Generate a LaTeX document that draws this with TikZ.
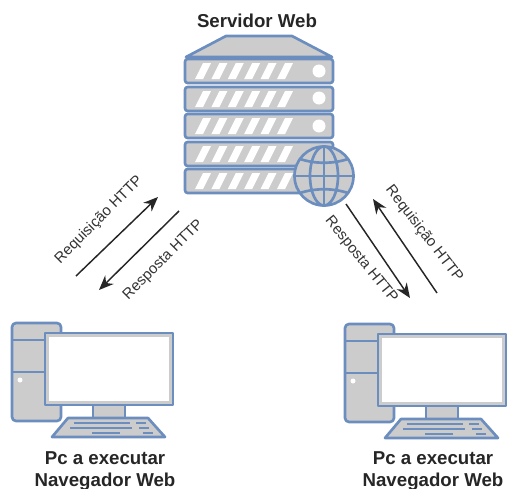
\documentclass[tikz,border=0pt]{standalone}
\usepackage{fontspec}
\setmainfont{Liberation Sans}
\usetikzlibrary{arrows.meta}
\definecolor{iconblue}{HTML}{6C8EBF}
\definecolor{icongrey}{HTML}{CCCCCC}
\tikzset{
  icon/.style={draw=iconblue, fill=icongrey, line width=2pt, line join=round},
  rackunit/.pic={
    \draw[icon, rounded corners=2] (185, 0) rectangle (333, 24);
    \foreach \i in {0,...,5}
      \fill[white] (195+16.4*\i, 20) -- (203+16.4*\i, 20) -- (211+16.4*\i, 4) -- (203+16.4*\i, 4) -- cycle;
  },
  pcicon/.pic={
    \draw[icon, rounded corners=3] (12, 323) rectangle (61, 421);
    \draw[icon] (12, 340) -- (61, 340);
    \draw[icon] (12, 372) -- (61, 372);
    \fill[white] (20, 380) circle (2.5);
    \draw[icon] (93, 405) rectangle (125, 418);
    \draw[icon] (68, 418) -- (148, 418) -- (165, 437) -- (52, 437) -- cycle;
    \draw[iconblue, line width=2pt] (74, 423) -- (130, 423);
    \draw[iconblue, line width=2pt] (136, 423) -- (146, 423);
    \draw[iconblue, line width=2pt] (70, 428) -- (132, 428);
    \draw[iconblue, line width=2pt] (139, 428) -- (149, 428);
    \draw[iconblue, line width=2pt] (92, 433) -- (120, 433);
    \draw[iconblue, line width=2pt] (143, 433) -- (153, 433);
    \draw[icon] (45, 333) rectangle (173, 405);
    \fill[white] (49, 337) rectangle (169, 401);
  },
  title/.style={font=\bfseries\fontsize{14}{16.5}\selectfont, text=black!85, align=center},
  msg/.style={font=\fontsize{11.2}{13}\selectfont, text=black!80},
  httparrow/.style={-{Stealth[length=11pt, width=9pt]}, line width=1.1pt, black!85}
}

\begin{document}
\begin{tikzpicture}[x=0.75pt, y=-0.75pt]
  \useasboundingbox (0, 0) rectangle (507, 489);

  % server
  \draw[icon] (186, 57) -- (226, 36) -- (292, 36) -- (332, 57) -- cycle;
  \foreach \y in {59, 87, 114, 142, 169}
    \pic at (0, \y) {rackunit};
  \foreach \y in {71, 98, 126}
    \fill[white] (319, \y) circle (6.5);

  % globe
  \draw[icon] (324, 176) circle (29.5);
  \draw[iconblue, line width=2pt] (324, 176) ellipse (14 and 29.5);
  \draw[iconblue, line width=2pt] (324, 146.5) -- (324, 205.5);
  \draw[iconblue, line width=2pt] (294.5, 176) -- (353.5, 176);
  \draw[iconblue, line width=2pt] (300, 159) .. controls (315, 164) and (333, 164) .. (348, 159);
  \draw[iconblue, line width=2pt] (300, 193) .. controls (315, 188) and (333, 188) .. (348, 193);

  % computers
  \pic at (0, 0) {pcicon};
  \pic at (333, 1) {pcicon};

  \node[title] (srv) at (257, 21) {Servidor Web};
  \node[title] (pcl) at (105, 471) {Pc a executar\\Navegador Web};
  \node[title] (pcr) at (433, 471) {Pc a executar\\Navegador Web};

  \coordinate (lreqa) at (76, 276);
  \coordinate (lreqb) at (158, 197);
  \coordinate (lresa) at (179, 211);
  \coordinate (lresb) at (99, 290);
  \coordinate (rresa) at (346, 204);
  \coordinate (rresb) at (410, 298);
  \coordinate (rreqa) at (437, 293);
  \coordinate (rreqb) at (373, 199);

  \draw[httparrow] (lreqa) -- (lreqb);
  \draw[httparrow] (lresa) -- (lresb);
  \draw[httparrow] (rresa) -- (rresb);
  \draw[httparrow] (rreqa) -- (rreqb);

  \node[msg, rotate=45] (lreq) at (99, 220) {Requisição HTTP};
  \node[msg, rotate=45] (lres) at (163.5, 260) {Resposta HTTP};
  \node[msg, rotate=-51] (rres) at (361, 260) {Resposta HTTP};
  \node[msg, rotate=-52.5] (rreq) at (424, 234) {Requisição HTTP};
\end{tikzpicture}
\end{document}
